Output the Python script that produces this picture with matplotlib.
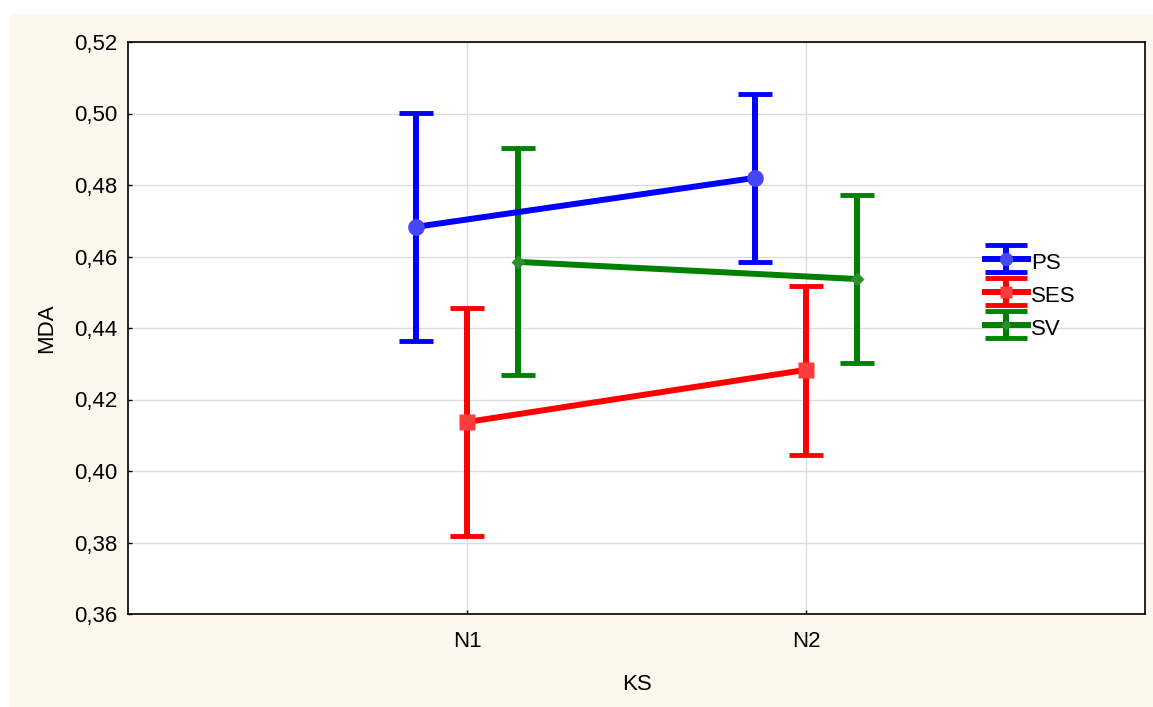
import numpy as np
import matplotlib.pyplot as plt
from matplotlib.patches import Rectangle
from matplotlib.container import ErrorbarContainer
from matplotlib.legend_handler import HandlerErrorbar

plt.rcParams['font.family'] = ['Liberation Sans', 'DejaVu Sans']

# data
groups = ['N1', 'N2']
series = ['PS', 'SES', 'SV']
means = {'PS': [0.4683, 0.4820], 'SES': [0.4137, 0.4283], 'SV': [0.4585, 0.4537]}
upper = {'PS': [0.5001, 0.5055], 'SES': [0.4456, 0.4517], 'SV': [0.4903, 0.4772]}
lower = {'PS': [0.4364, 0.4585], 'SES': [0.3818, 0.4045], 'SV': [0.4269, 0.4302]}

colors = {'PS': '#0000ff', 'SES': '#ff0000', 'SV': '#008000'}
mcolors = {'PS': '#4646ff', 'SES': '#ff3c3c', 'SV': '#2f8f2f'}
markers = {'PS': 'o', 'SES': 's', 'SV': 'D'}
msizes = {'PS': 12, 'SES': 11, 'SV': 7}
offsets = {'PS': -0.15, 'SES': 0.0, 'SV': 0.15}

fig = plt.figure(figsize=(11.53, 7.07), dpi=100)
fig.patch.set_facecolor('white')
fig.patches.append(Rectangle((10 / 1153, 0), 1, (707 - 14) / 707, transform=fig.transFigure,
                             facecolor='#fdf8ee', edgecolor='none', zorder=-10))
ax = fig.add_axes([128 / 1153, (707 - 614) / 707, (1145 - 128) / 1153, (614 - 42) / 707])
ax.set_facecolor('white')

handles = []
for s in series:
    xs = [i + offsets[s] for i in range(len(groups))]
    m = means[s]
    yerr = [[m[i] - lower[s][i] for i in range(2)], [upper[s][i] - m[i] for i in range(2)]]
    ax.errorbar(xs, m, yerr=yerr, color=colors[s], lw=4.3, elinewidth=4.3,
                capsize=12, capthick=3.5, marker=markers[s], ms=msizes[s],
                mfc=mcolors[s], mec='none', zorder=3)
    # invisible copy with wider caps, used only for the legend
    h = ax.errorbar([np.nan], [np.nan], yerr=[[0.01]], color=colors[s], lw=4.3,
                    elinewidth=4.3, capsize=15, capthick=3.5, marker=markers[s],
                    ms=msizes[s] * 0.8, mfc=mcolors[s], mec='none', label=s)
    handles.append(h)

ax.set_xlim(-1.0, 2.0)
ax.set_ylim(0.36, 0.52)
ax.set_xticks(range(len(groups)))
ax.set_xticklabels(groups)
yt = [0.36 + 0.02 * i for i in range(9)]
ax.set_yticks(yt)
ax.set_yticklabels([f'{v:.2f}'.replace('.', ',') for v in yt])
ax.grid(True, color='#dcdcdc', lw=1)
ax.set_axisbelow(True)
ax.tick_params(labelsize=16, direction='in', length=3, width=1)
ax.tick_params(axis='y', pad=8)
ax.tick_params(axis='x', pad=12)
for sp in ax.spines.values():
    sp.set_linewidth(1.2)

ax.set_xlabel('KS', fontsize=16, labelpad=16)
ax.set_ylabel('MDA', fontsize=16, labelpad=12)

leg = ax.legend(handles=handles, loc='upper left', bbox_to_anchor=(0.843, 0.64), frameon=False,
                fontsize=16, handlelength=1.9, handleheight=1.6, handletextpad=0.15,
                labelspacing=0.2, borderaxespad=0, borderpad=0,
                handler_map={ErrorbarContainer: HandlerErrorbar(yerr_size=0.6)})

fig.savefig('out.png', dpi=100, facecolor=fig.get_facecolor())
